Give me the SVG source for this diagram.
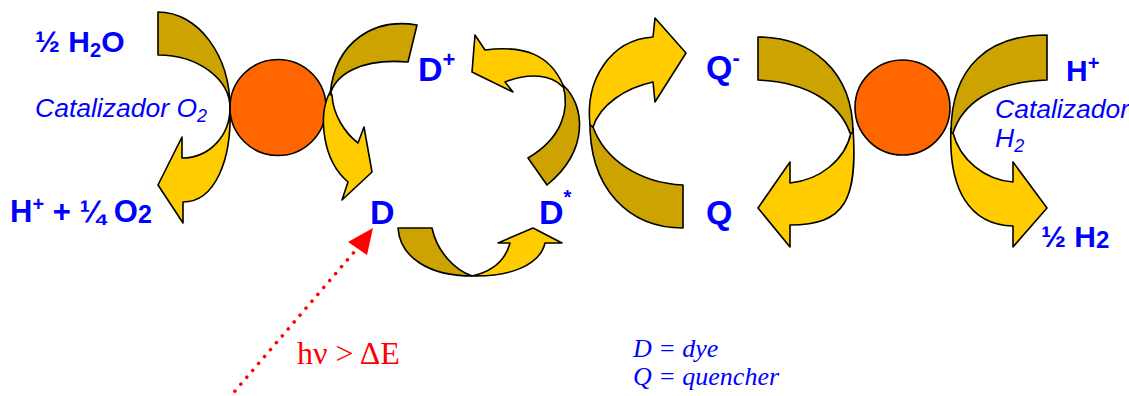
<svg xmlns="http://www.w3.org/2000/svg" width="1129" height="396" viewBox="0 0 1129 396">
<style>
.dk{fill:#CCA300;stroke:#000;stroke-width:1.6;stroke-linejoin:round}
.yl{fill:#FFCC00;stroke:#000;stroke-width:1.6;stroke-linejoin:round}
.cat{fill:#FF6600;stroke:#000;stroke-width:1.6}
.b{font-family:"Liberation Sans",Arial,sans-serif;font-weight:bold;fill:#0000FF}
.i{font-family:"Liberation Sans",Arial,sans-serif;font-style:italic;fill:#0000FF}
.s{font-family:"Liberation Serif","Times New Roman",serif}
</style>
<rect width="1129" height="396" fill="#fff"/>
<g id="catalyst-o2"><circle class="cat" cx="278" cy="107.5" r="48"/></g>
<g id="catalyst-h2"><circle class="cat" cx="902.5" cy="107.5" r="47.5"/></g>
<g id="connectors">
  <path class="yl" d="M230,108 C232,160 215,202 183,202 L183,223 L158,185 L182,137 L182,158 C210,158 230,135 230,108 Z"/>
  <path class="dk" d="M158,12 C198,12 230,55 230,108 C230,79 198,55 158,55 Z"/>
  <path class="yl" d="M330,92 C318,115 322,160 348,182 L342,200 L372,172 L364,127 L358,143 C345,133 333,115 332,95 Z"/>
  <path class="dk" d="M417,25 C375,18 335,40 330,95 C335,75 360,58 408,62 Z"/>
  <path class="dk" d="M563,85 C585,105 590,150 547,185 L528,158 C562,138 570,110 563,85 Z"/>
  <path class="yl" d="M563,85 C550,55 525,45 485,50 L475,35 L472,72 L513,92 L505,82 C530,72 552,75 563,87 Z"/>
  <path class="dk" d="M590,118 C588,190 630,228 683,228 L683,185 C640,183 605,160 593,127 Z"/>
  <path class="yl" d="M590,125 C585,80 610,40 653,37 L655,18 L686,53 L655,102 L653,82 C625,88 600,105 593,127 Z"/>
  <path class="dk" d="M398,228 C400,258 430,276 472,276 C455,270 437,252 432,228 Z"/>
  <path class="yl" d="M472,276 C510,277 540,265 545,243 L562,243 L533,228 L498,243 L510,243 C505,262 490,272 472,276 Z"/>
  <path class="yl" d="M853,128 C858,200 845,225 790,225 L790,247 L758,208 L790,162 L790,183 C820,180 845,160 851,133 Z"/>
  <path class="dk" d="M758,37 C810,37 853,70 853,133 L850,133 C840,105 810,82 758,80 Z"/>
  <path class="yl" d="M951,128 C948,190 970,225 1013,226 L1013,247 L1047,208 L1013,162 L1013,182 C985,180 960,160 953,133 Z"/>
  <path class="dk" d="M1047,35 C990,35 951,65 951,133 L953,133 C962,105 990,82 1047,80 Z"/>
  <line x1="229" y1="398" x2="355" y2="251" stroke="#FF0000" stroke-width="3.5" stroke-linecap="round" stroke-dasharray="0.1 9"/>
  <polygon points="348,242 373,228 367,255" fill="#FF0000"/>
</g>
<g id="label-h2o"><text class="b" x="35" y="52" font-size="30">½ H<tspan font-size="20" dy="5">2</tspan><tspan dy="-5">O</tspan></text></g>
<g id="label-cat-o2"><text class="i" x="35" y="117" font-size="26.5">Catalizador O<tspan font-size="18" dy="5">2</tspan></text></g>
<g id="label-o2"><text class="b" x="10" y="222" font-size="31">H<tspan font-size="20" dy="-11">+</tspan><tspan dy="11"> + ¼ O</tspan><tspan font-size="25" dy="1">2</tspan></text></g>
<g id="label-dplus"><text class="b" x="418" y="81" font-size="34">D<tspan font-size="22" dy="-14">+</tspan></text></g>
<g id="label-d"><text class="b" x="370" y="224" font-size="34">D</text></g>
<g id="label-dstar"><text class="b" x="539" y="224" font-size="34">D<tspan font-size="20" dy="-20">*</tspan></text></g>
<g id="label-qminus"><text class="b" x="706" y="79" font-size="34">Q<tspan font-size="22" dy="-14">-</tspan></text></g>
<g id="label-q"><text class="b" x="706" y="224" font-size="34">Q</text></g>
<g id="label-hplus"><text class="b" x="1066" y="81" font-size="30">H<tspan font-size="20" dy="-11">+</tspan></text></g>
<g id="label-cat-h2"><text class="i" font-size="26.5"><tspan x="995" y="118">Catalizador</tspan><tspan x="995" y="147">H</tspan><tspan font-size="18" dy="5">2</tspan></text></g>
<g id="label-h2"><text class="b" x="1041" y="247" font-size="30">½ H<tspan font-size="24" dy="1">2</tspan></text></g>
<g id="label-hv"><text class="s" x="297" y="364" font-size="32" fill="#FF0000">hν &gt; ΔE</text></g>
<g id="legend"><text class="s" font-size="26" font-style="italic" fill="#0000FF"><tspan x="633" y="357">D = dye</tspan><tspan x="633" y="385">Q = quencher</tspan></text></g>
</svg>
